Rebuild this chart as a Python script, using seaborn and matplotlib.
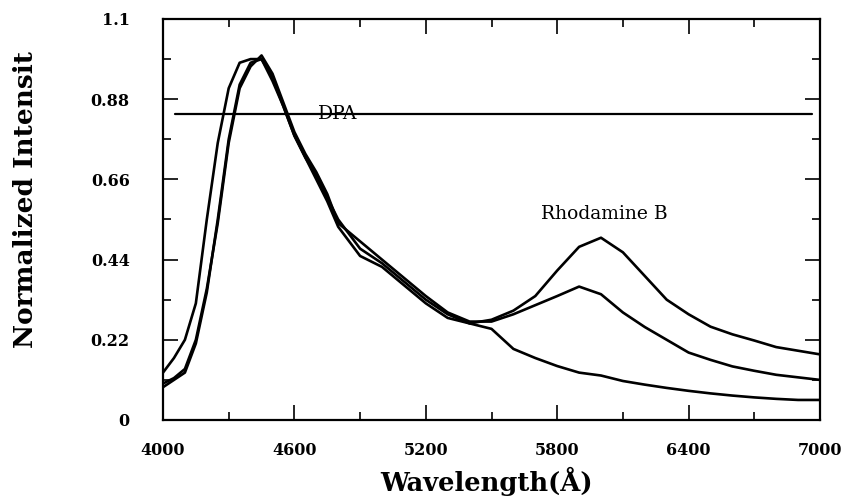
import numpy as np
import pandas as pd
import matplotlib
matplotlib.use("Agg")
import matplotlib.pyplot as plt
import seaborn as sns
from matplotlib.ticker import MultipleLocator, FixedLocator, FixedFormatter

# wavelength grid (Angstrom)
wavelength = [4000, 4050, 4100, 4150, 4200, 4250, 4300, 4350, 4400, 4450,
              4500, 4550, 4600, 4650, 4700, 4750, 4800, 4900, 5000, 5100,
              5200, 5300, 5400, 5500, 5600, 5700, 5800, 5900, 6000, 6100,
              6200, 6300, 6400, 6500, 6600, 6700, 6800, 6900, 7000]

# DPA only (rises first, no second band)
spec_dpa = [0.13, 0.17, 0.22, 0.32, 0.55, 0.76, 0.91, 0.98, 0.99, 0.99,
            0.93, 0.86, 0.78, 0.72, 0.67, 0.61, 0.55, 0.47, 0.43, 0.38,
            0.33, 0.29, 0.265, 0.25, 0.195, 0.17, 0.148, 0.13, 0.122, 0.107,
            0.097, 0.088, 0.08, 0.073, 0.067, 0.062, 0.058, 0.055, 0.055]

# with some Rhodamine B
spec_mid = [0.10, 0.115, 0.14, 0.22, 0.36, 0.54, 0.76, 0.91, 0.97, 1.0,
            0.95, 0.87, 0.79, 0.73, 0.68, 0.62, 0.54, 0.49, 0.44, 0.39,
            0.34, 0.295, 0.27, 0.27, 0.29, 0.315, 0.34, 0.366, 0.345, 0.295,
            0.255, 0.22, 0.185, 0.165, 0.147, 0.135, 0.124, 0.117, 0.11]

# with more Rhodamine B
spec_top = [0.09, 0.11, 0.13, 0.21, 0.35, 0.55, 0.77, 0.92, 0.98, 0.99,
            0.94, 0.86, 0.78, 0.72, 0.66, 0.60, 0.53, 0.45, 0.42, 0.37,
            0.32, 0.28, 0.265, 0.275, 0.30, 0.34, 0.41, 0.475, 0.50, 0.46,
            0.395, 0.33, 0.29, 0.256, 0.235, 0.218, 0.20, 0.19, 0.18]

dpa_level = 0.84
dpa_span = [4055, 6965]

xticks = [4000, 4600, 5200, 5800, 6400, 7000]
xticks_minor = [4300, 4900, 5500, 6100, 6700]
yticks = [0, 0.22, 0.44, 0.66, 0.88, 1.1]
ytick_labels = ["0", "0.22", "0.44", "0.66", "0.88", "1.1"]

df = pd.DataFrame({
    "wavelength": wavelength * 3,
    "intensity": spec_dpa + spec_mid + spec_top,
    "sample": ["dpa"] * len(wavelength) + ["mid"] * len(wavelength) + ["top"] * len(wavelength),
})

sns.set_style("ticks")
plt.rcParams["font.family"] = ["DejaVu Serif"]
plt.rcParams["font.weight"] = "bold"
plt.rcParams["text.color"] = "black"

fig = plt.figure(figsize=(8.49, 4.96), dpi=100)
ax = fig.add_axes([163 / 849, 1 - 420 / 496, 657 / 849, 401 / 496])

sns.lineplot(data=df, x="wavelength", y="intensity", hue="sample",
             palette=["black", "black", "black"], linewidth=1.9,
             legend=False, ax=ax)
ax.plot(dpa_span, [dpa_level, dpa_level], color="black", linewidth=1.6)

ax.text(4708, dpa_level, "DPA", fontsize=13.5, fontweight="normal",
        va="center", ha="left", color="black")
ax.text(5725, 0.565, "Rhodamine B", fontsize=13.5, fontweight="normal",
        va="center", ha="left", color="black")

ax.set_xlim(4000, 7000)
ax.set_ylim(0, 1.1)
ax.xaxis.set_major_locator(FixedLocator(xticks))
ax.xaxis.set_minor_locator(FixedLocator(xticks_minor))
ax.yaxis.set_major_locator(FixedLocator(yticks))
ax.yaxis.set_major_formatter(FixedFormatter(ytick_labels))
ax.yaxis.set_minor_locator(MultipleLocator(0.11))

ax.tick_params(which="both", direction="in", top=True, right=True,
               width=1.2, labelsize=11.5, colors="black")
ax.tick_params(which="major", length=11, pad=16)
ax.tick_params(which="minor", length=6)
ax.tick_params(axis="y", which="major", pad=24)
for s in ax.spines.values():
    s.set_linewidth(1.6)
    s.set_color("black")

ax.set_xlabel("")
ax.set_ylabel("")
fig.text(487 / 849, 1 - 481 / 496, "Wavelength(Å)", fontsize=18.5,
         fontweight="bold", ha="center", va="center", color="black")
fig.text(26 / 849, 1 - 200 / 496, "Normalized Intensit", fontsize=19,
         fontweight="bold", ha="center", va="center", rotation=90,
         color="black")

fig.savefig("out.png", dpi=100, facecolor="white")
